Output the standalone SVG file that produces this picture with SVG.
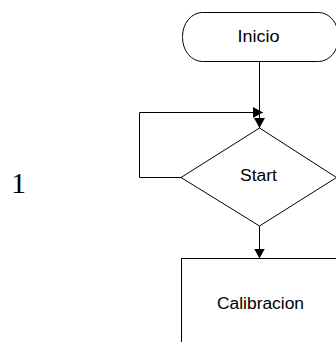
<svg xmlns="http://www.w3.org/2000/svg" width="336" height="342" viewBox="0 0 336 342">
<defs>
<style>
.shape{fill:#fff;stroke:#000;stroke-width:1}
.line{fill:none;stroke:#000;stroke-width:1}
.lbl{font-family:"Liberation Sans",Arial,sans-serif;font-size:16px;fill:#000;text-anchor:middle}
.num{font-family:"Liberation Serif","Times New Roman",serif;font-size:30px;fill:#000}
</style>
<marker id="arr" viewBox="0 0 10 11" refX="10" refY="5.5" markerWidth="10" markerHeight="11" markerUnits="userSpaceOnUse" orient="auto">
<path d="M0,0 L10,5.5 L0,11 Z" fill="#000"/>
</marker>
</defs>
<rect width="336" height="342" fill="#fff"/>
<g id="connectors">
<path class="line" d="M259.5,62 L259.5,128" marker-end="url(#arr)"/>
<path class="line" d="M181,177.5 L139.5,177.5 L139.5,112.5 L263,112.5" marker-end="url(#arr)"/>
<path class="line" d="M259.5,226 L259.5,258.5" marker-end="url(#arr)"/>
</g>
<g id="inicio">
<rect class="shape" x="182.5" y="12.5" width="156" height="49" rx="20" ry="24"/>
<text class="lbl" x="258.5" y="42" textLength="42" lengthAdjust="spacingAndGlyphs">Inicio</text>
</g>
<g id="start">
<path class="shape" d="M259.5,128 L336.5,177.5 L259.5,226 L181,177.5 Z"/>
<text class="lbl" x="258.5" y="180.5" textLength="37" lengthAdjust="spacingAndGlyphs">Start</text>
</g>
<g id="calibracion">
<rect class="shape" x="181.5" y="258.5" width="160" height="90"/>
<text class="lbl" x="260.5" y="309" textLength="87" lengthAdjust="spacingAndGlyphs">Calibracion</text>
</g>
<g id="label1">
<text class="num" x="11" y="193">1</text>
</g>
</svg>
